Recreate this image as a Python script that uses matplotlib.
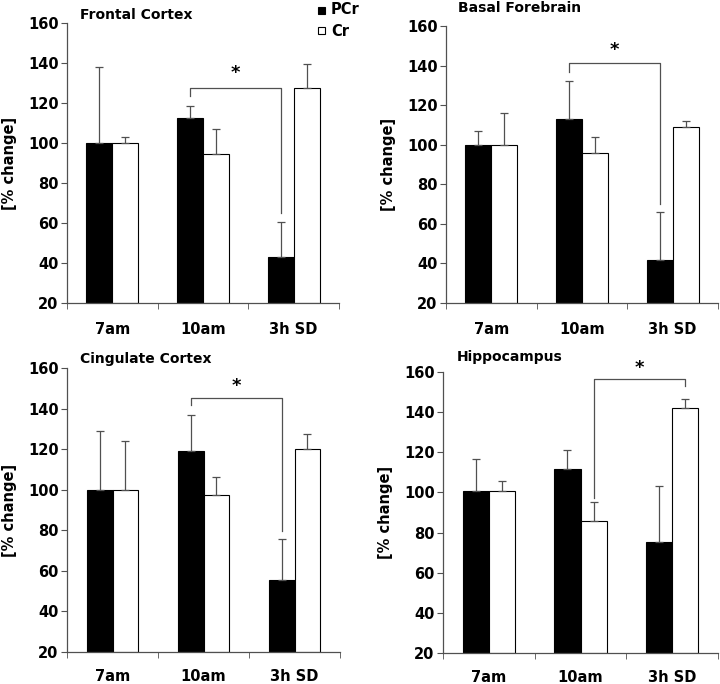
import matplotlib
matplotlib.use("Agg")
import matplotlib.pyplot as plt
import numpy as np
from matplotlib.patches import Rectangle

plt.rcParams['font.family'] = ['DejaVu Sans']
plt.rcParams['font.weight'] = 'bold'

categories = ["7am", "10am", "3h SD"]
regions = ["Frontal Cortex", "Basal Forebrain", "Cingulate Cortex", "Hippocampus"]

pcr_means = {
    "Frontal Cortex": [100, 112.5, 43],
    "Basal Forebrain": [100, 113, 41.5],
    "Cingulate Cortex": [100, 119, 55.5],
    "Hippocampus": [100.5, 111.5, 75.5],
}
pcr_err = {
    "Frontal Cortex": [38, 6, 17.5],
    "Basal Forebrain": [7, 19, 24.5],
    "Cingulate Cortex": [29, 18, 20],
    "Hippocampus": [16, 9.5, 27.5],
}
cr_means = {
    "Frontal Cortex": [100, 94.5, 127.5],
    "Basal Forebrain": [100, 96, 109],
    "Cingulate Cortex": [100, 97.5, 120],
    "Hippocampus": [100.5, 86, 142],
}
cr_err = {
    "Frontal Cortex": [3, 12.5, 12],
    "Basal Forebrain": [16, 8, 3],
    "Cingulate Cortex": [24, 9, 7.5],
    "Hippocampus": [5, 9, 4.5],
}
# significance brackets: (series_left, cat_left, y_left_end, series_right, cat_right, y_right_end, y_top, star_y)
brackets = {
    "Frontal Cortex": ("PCr", 1, 123.5, "PCr", 2, 65, 127.5, 135),
    "Basal Forebrain": ("PCr", 1, 137, "PCr", 2, 70, 141.5, 148),
    "Cingulate Cortex": ("PCr", 1, 142, "PCr", 2, 79.5, 145, 151),
    "Hippocampus": ("Cr", 1, 97, "Cr", 2, 153, 156.5, 162),
}
yticks = [20, 40, 60, 80, 100, 120, 140, 160]

W, H = 720, 684
fig = plt.figure(figsize=(W / 100, H / 100), dpi=100)

# pixel boxes: left, right, top, bottom
boxes = {
    "Frontal Cortex": (67, 339, 23, 303),
    "Basal Forebrain": (446, 718, 26, 303),
    "Cingulate Cortex": (67, 340, 368, 652),
    "Hippocampus": (443, 718, 372, 653),
}
title_pos = {
    "Frontal Cortex": (80, 15),
    "Basal Forebrain": (458, 8),
    "Cingulate Cortex": (80, 359),
    "Hippocampus": (457, 357),
}
xpad = {
    "Frontal Cortex": 14,
    "Basal Forebrain": 14,
    "Cingulate Cortex": 12,
    "Hippocampus": 12,
}

bw = 0.285
gray = "#505050"
for reg in regions:
    l, r, t, b = boxes[reg]
    ax = fig.add_axes([l / W, 1 - b / H, (r - l) / W, (b - t) / H])
    x = np.arange(len(categories)) + 0.5
    xp = x - bw / 2
    xc = x + bw / 2
    ax.bar(xp, np.array(pcr_means[reg]) - 20, bw, bottom=20, color="black",
           edgecolor="black", linewidth=0.8, zorder=2)
    ax.bar(xc, np.array(cr_means[reg]) - 20, bw, bottom=20, color="white",
           edgecolor="black", linewidth=0.8, zorder=2)
    ax.errorbar(xp, pcr_means[reg], yerr=[np.zeros(3), pcr_err[reg]], fmt="none",
                ecolor=gray, elinewidth=0.9, capsize=3, capthick=0.9, zorder=3)
    ax.errorbar(xc, cr_means[reg], yerr=[np.zeros(3), cr_err[reg]], fmt="none",
                ecolor=gray, elinewidth=0.9, capsize=3, capthick=0.9, zorder=3)
    s1, c1, y1, s2, c2, y2, yt, ys = brackets[reg]
    bx1 = x[c1] + (-bw / 2 if s1 == "PCr" else bw / 2)
    bx2 = x[c2] + (-bw / 2 if s2 == "PCr" else bw / 2)
    ax.plot([bx1, bx1, bx2, bx2], [y1, yt, yt, y2], color=gray, lw=0.9, zorder=4,
            clip_on=False)
    ax.text((bx1 + bx2) / 2, ys, "*", ha="center", va="center", fontsize=13,
            fontweight="bold", clip_on=False)

    ax.set_xlim(0, 3)
    ax.set_ylim(20, 160)
    ax.set_yticks(yticks)
    ax.set_yticklabels([str(v) for v in yticks], fontsize=10.5, fontweight="bold")
    ax.set_xticks(x)
    ax.set_xticklabels(categories, fontsize=10.5, fontweight="bold")
    ax.set_xticks([0, 1, 2, 3], minor=True)
    ax.tick_params(axis="x", which="major", length=0, pad=xpad[reg])
    ax.tick_params(axis="x", which="minor", length=4, direction="out", color=gray)
    ax.tick_params(axis="y", length=4, direction="out", color=gray, pad=2)
    for sp in ["top", "right"]:
        ax.spines[sp].set_visible(False)
    for sp in ["left", "bottom"]:
        ax.spines[sp].set_color(gray)
        ax.spines[sp].set_linewidth(0.9)
    ax.set_ylabel("[% change]", fontsize=10.5, fontweight="bold", labelpad=8)

    tx, ty = title_pos[reg]
    fig.text(tx / W, 1 - ty / H, reg, ha="left", va="center", fontsize=10,
             fontweight="bold")

# legend
fig.patches.append(Rectangle((318 / W, 1 - 14 / H), 7 / W, 7 / H, transform=fig.transFigure,
                             facecolor="black", edgecolor="black", lw=0.8))
fig.patches.append(Rectangle((318 / W, 1 - 34 / H), 7 / W, 7 / H, transform=fig.transFigure,
                             facecolor="white", edgecolor="black", lw=0.8))
fig.text(331 / W, 1 - 10 / H, "PCr", ha="left", va="center", fontsize=10.5, fontweight="bold")
fig.text(331 / W, 1 - 31 / H, "Cr", ha="left", va="center", fontsize=10.5, fontweight="bold")

fig.savefig("out.png", dpi=100)
